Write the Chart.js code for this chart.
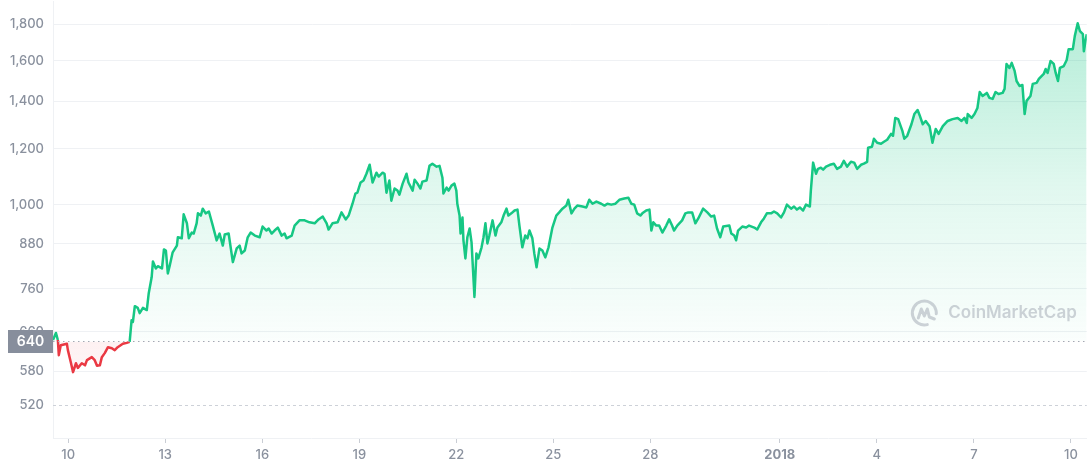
<!DOCTYPE html>
<html>
<head>
<meta charset="utf-8">
<script src="https://cdn.jsdelivr.net/npm/chart.js@4.4.1/dist/chart.umd.min.js"></script>
<style>
  html, body { margin: 0; padding: 0; background: #fff; }
  #wrap { width: 1088px; height: 468px; }
</style>
</head>
<body>
<div id="wrap"><canvas id="chart" width="1088" height="468"></canvas></div>
<script>
// dias contados a partir de 10 dez 2017 (0 = 10 dez)
const days = [
  -0.47,-0.38,-0.32,-0.29,-0.23,-0.04,-0.01,0.08,0.15,0.24,
  0.30,0.42,0.52,0.58,0.73,0.82,0.89,0.98,1.04,1.13,
  1.23,1.35,1.44,1.53,1.69,1.81,1.90,1.96,2.00,2.06,
  2.15,2.21,2.31,2.43,2.49,2.58,2.62,2.71,2.77,2.90,
  2.96,3.02,3.08,3.14,3.23,3.36,3.39,3.51,3.57,3.67,
  3.73,3.82,3.88,3.97,4.01,4.10,4.16,4.25,4.35,4.47,
  4.59,4.68,4.78,4.84,4.96,
  5.09,5.21,5.30,5.36,5.46,5.55,5.64,5.77,5.92,6.01,
  6.13,6.20,6.29,6.38,6.48,6.60,6.69,6.75,6.91,7.00,
  7.15,7.31,7.46,7.62,7.74,7.87,7.99,8.05,8.17,8.33,
  8.45,8.58,8.67,8.79,8.88,8.94,9.04,9.13,9.22,9.32,
  9.41,9.53,9.60,9.72,9.78,9.84,9.93,9.99,10.09,10.18,
  10.24,10.34,10.46,10.52,10.65,10.71,10.80,10.89,10.95,11.08,
  11.17,11.26,11.39,11.48,11.57,11.60,11.70,11.76,11.85,11.94,12.00,
  12.03,12.10,12.13,12.19,12.22,12.28,12.34,12.41,12.47,12.56,
  12.62,12.68,12.78,12.84,12.90,12.96,13.02,13.12,13.21,13.27,
  13.39,13.46,13.55,13.61,13.70,13.80,13.89,13.95,14.04,14.13,
  14.20,14.26,14.35,14.41,14.48,14.57,14.66,14.75,14.85,14.97,
  15.09,15.18,15.28,15.40,15.46,15.56,15.65,15.74,15.90,16.02,
  16.11,16.21,16.33,16.48,16.58,16.67,16.79,16.92,17.04,17.19,
  17.32,17.41,17.50,17.59,17.69,17.75,17.87,17.97,18.03,18.09,
  18.18,18.27,18.37,18.49,18.58,18.67,18.73,18.83,
  18.98,19.08,19.17,19.29,19.39,19.48,19.63,19.76,19.88,19.97,
  20.06,20.16,20.25,20.44,20.50,20.59,20.65,20.71,20.84,20.96,
  21.05,21.21,21.30,21.42,21.51,21.60,21.73,21.82,21.92,22.04,
  22.13,22.22,22.35,22.44,22.53,22.62,22.72,22.81,22.93,22.96,
  23.03,23.12,23.18,23.27,23.34,23.43,23.55,23.67,23.77,23.89,
  23.98,24.08,24.20,24.30,24.39,24.51,24.60,24.70,24.73,24.85,
  24.91,25.01,25.13,25.22,25.32,25.44,25.50,25.57,25.66,
  25.79,25.85,25.94,26.07,26.16,26.26,26.32,26.42,26.51,26.63,
  26.72,26.82,26.91,27.04,27.19,27.34,27.50,27.62,27.71,27.78,
  27.81,27.93,28.02,28.11,28.18,28.27,28.40,28.48,28.58,28.67,
  28.76,28.89,28.95,29.01,29.10,29.17,29.26,29.32,29.41,29.50,
  29.57,29.63,29.75,29.82,29.94,30.01,30.16,30.22,30.28,30.37,
  30.47,30.53,30.60,30.66,30.78,30.87,30.93,31.06,31.12,31.21,
  31.28,31.37,31.40,31.46,31.49
];

const prices = [
  643,658,643,612,632,635,622,598,579,596,
  587,596,592,602,608,602,591,592,608,616,
  628,626,622,628,635,637,639,686,682,718,
  714,702,714,709,749,789,831,812,818,812,
  864,861,799,820,856,875,899,896,969,941,
  896,913,910,941,972,965,987,972,978,934,
  890,910,875,907,910,
  829,867,875,853,861,899,913,904,899,931,
  919,925,910,919,928,904,910,896,904,934,
  950,950,944,941,953,962,941,922,941,944,
  975,953,965,1003,1037,1040,1075,1082,1106,1139,
  1075,1110,1096,1110,1106,1040,1082,1013,1054,1047,
  1033,1071,1106,1075,1047,1085,1071,1054,1078,1082,
  1135,1143,1132,1135,1092,1037,1057,1047,1064,1071,1047,
  1003,965,910,959,890,839,899,925,884,740,
  853,839,870,899,941,881,904,950,904,928,
  944,965,987,965,972,981,984,934,870,904,
  896,919,896,853,815,867,861,842,870,928,
  965,975,987,997,1016,972,987,997,994,991,
  1016,1003,1010,1003,997,1003,1000,1003,1016,1020,
  1023,1003,1000,972,965,972,981,984,919,944,
  934,934,913,934,953,934,919,934,
  950,972,975,975,941,956,987,975,962,965,
  925,899,931,934,910,904,890,919,931,928,
  934,928,922,944,956,972,972,978,972,959,
  975,1000,987,994,984,991,981,1000,994,1047,
  1147,1106,1124,1128,1121,1132,1139,1143,1124,1132,
  1154,1132,1150,1147,1124,1139,1143,1150,1204,1208,
  1240,1224,1220,1228,1236,1260,1252,1327,1322,
  1272,1240,1252,1300,1344,1362,1340,1300,1314,1292,
  1224,1280,1260,1292,1314,1322,1327,1314,1327,1305,
  1344,1327,1344,1371,1444,1426,1440,1417,1412,1444,
  1435,1440,1459,1583,1562,1588,1547,1497,1473,1478,
  1344,1403,1426,1483,1488,1507,1532,1557,1537,1598,
  1583,1537,1497,1562,1572,1603,1661,1661,1733,1807,
  1761,1744,1650,1716,1744
];

const yTicks = [520, 580, 660, 760, 880, 1000, 1200, 1400, 1600, 1800];
const xTickDays = [0, 3, 6, 9, 12, 15, 18, 22, 25, 28, 31];
const xTickLabels = ["10", "13", "16", "19", "22", "25", "28", "2018", "4", "7", "10"];
const refPrice = 640;
const dashedLine = 520;

const GREEN = "#16c784";
const RED = "#ea3943";
const GREY = "#8a919e";
const GRID = "#eff1f4";

// linhas de referencia, selo do preco e marca d'agua
const refPlugin = {
  id: "refPlugin",
  beforeDatasetsDraw(chart) {
    const { ctx, chartArea: a, scales } = chart;
    const py = Math.round(scales.y.getPixelForValue(dashedLine)) + 0.5;
    ctx.save();
    ctx.strokeStyle = "#cdd1d8";
    ctx.lineWidth = 1;
    ctx.setLineDash([3, 3]);
    ctx.beginPath();
    ctx.moveTo(a.left, py);
    ctx.lineTo(a.right, py);
    ctx.stroke();
    ctx.restore();
  },
  afterDatasetsDraw(chart) {
    const { ctx, chartArea: a, scales } = chart;
    // linha pontilhada do preco de abertura
    const py = Math.round(scales.y.getPixelForValue(refPrice)) + 0.5;
    ctx.save();
    ctx.strokeStyle = "#a3a8b3";
    ctx.lineWidth = 1;
    ctx.setLineDash([1.5, 3.5]);
    ctx.beginPath();
    ctx.moveTo(a.left, py);
    ctx.lineTo(a.right, py);
    ctx.stroke();
    ctx.restore();

    // marca d'agua
    ctx.save();
    const wy = a.bottom - 125;
    ctx.font = "600 17px Inter";
    ctx.fillStyle = "rgba(140,148,162,0.42)";
    ctx.textAlign = "right";
    ctx.textBaseline = "middle";
    const tx = a.right - 10;
    ctx.fillText("CoinMarketCap", tx, wy);
    const tw = ctx.measureText("CoinMarketCap").width;
    const cx = tx - tw - 24;
    const r = 12;
    ctx.strokeStyle = "rgba(140,148,162,0.42)";
    ctx.lineWidth = 3;
    ctx.lineCap = "round";
    ctx.lineJoin = "round";
    ctx.beginPath();
    ctx.arc(cx, wy, r, 0.42 * Math.PI, 2.02 * Math.PI);
    ctx.stroke();
    ctx.beginPath();
    ctx.moveTo(cx - 6, wy + 5);
    ctx.lineTo(cx - 3, wy - 4);
    ctx.lineTo(cx, wy + 3);
    ctx.lineTo(cx + 3, wy - 4);
    ctx.lineTo(cx + 5, wy + 4);
    ctx.lineTo(cx + 10, wy + 6);
    ctx.stroke();
    ctx.restore();
  },
  afterDraw(chart) {
    const { ctx, chartArea: a, scales } = chart;
    const py = scales.y.getPixelForValue(refPrice);
    ctx.save();
    ctx.fillStyle = "#878e9c";
    ctx.fillRect(8, Math.round(py) - 11, a.left - 8, 23);
    ctx.fillStyle = "#ffffff";
    ctx.font = "600 14px Inter";
    ctx.textAlign = "center";
    ctx.textBaseline = "middle";
    ctx.fillText(String(refPrice), (8 + a.left) / 2, Math.round(py) + 1);
    ctx.restore();
  },
};

const pontos = days.map((d, i) => ({ x: d, y: prices[i] }));

const chart = new Chart(document.getElementById("chart"), {
  type: "line",
  data: {
    datasets: [
      {
        data: pontos,
        borderColor: GREEN,
        borderWidth: 2.5,
        pointRadius: 0,
        tension: 0,
        borderJoinStyle: "round",
        fill: { target: { value: refPrice }, above: "rgba(22,199,132,0.12)", below: "rgba(234,57,67,0.04)" },
        segment: {
          borderColor: (c) => ((c.p0.parsed.y + c.p1.parsed.y) / 2 < refPrice ? RED : GREEN),
        },
      },
    ],
  },
  options: {
    responsive: false,
    animation: false,
    layout: { padding: 0 },
    plugins: { legend: { display: false }, tooltip: { enabled: false } },
    scales: {
      x: {
        type: "linear",
        min: -0.47,
        max: 31.49,
        afterBuildTicks: (s) => { s.ticks = xTickDays.map((v) => ({ value: v })); },
        afterFit: (s) => {
          s.height = 30;
          s.paddingLeft = 0;
          s.paddingRight = 0;
        },
        ticks: {
          autoSkip: false,
          maxRotation: 0,
          padding: 4,
          color: GREY,
          font: (c) => ({ family: "Inter", size: 13, weight: c.tick && c.tick.value === 22 ? "700" : "500" }),
          callback: (v) => xTickLabels[xTickDays.indexOf(v)],
        },
        grid: { drawOnChartArea: false, drawTicks: true, tickLength: 5, color: "#c9cdd4" },
        border: { display: true, color: GRID },
      },
      y: {
        type: "logarithmic",
        min: 467,
        max: 1942,
        afterBuildTicks: (s) => { s.ticks = yTicks.map((v) => ({ value: v })); },
        afterFit: (s) => {
          s.width = 53;
          s.paddingTop = 0;
          s.paddingBottom = 0;
        },
        ticks: {
          autoSkip: false,
          padding: 9,
          color: GREY,
          font: { family: "Inter", size: 13, weight: "500" },
          callback: (v) => Number(v).toLocaleString("en-US"),
        },
        grid: {
          drawTicks: false,
          tickLength: 0,
          color: (c) => (c.tick && c.tick.value === dashedLine ? "rgba(0,0,0,0)" : GRID),
        },
        border: { display: true, color: GRID },
      },
    },
  },
  plugins: [refPlugin],
});

// gradiente do preenchimento depois que a area do grafico existe
const area = chart.chartArea;
const yRef = chart.scales.y.getPixelForValue(refPrice);
const cctx = chart.ctx;
const gradVerde = cctx.createLinearGradient(0, area.top, 0, yRef);
gradVerde.addColorStop(0, "rgba(22,199,132,0.34)");
gradVerde.addColorStop(0.55, "rgba(22,199,132,0.13)");
gradVerde.addColorStop(1, "rgba(22,199,132,0.02)");
const gradVermelho = cctx.createLinearGradient(0, yRef, 0, area.bottom);
gradVermelho.addColorStop(0, "rgba(234,57,67,0.07)");
gradVermelho.addColorStop(1, "rgba(234,57,67,0)");
chart.data.datasets[0].fill = { target: { value: refPrice }, above: gradVerde, below: gradVermelho };
chart.update("none");
</script>
</body>
</html>
